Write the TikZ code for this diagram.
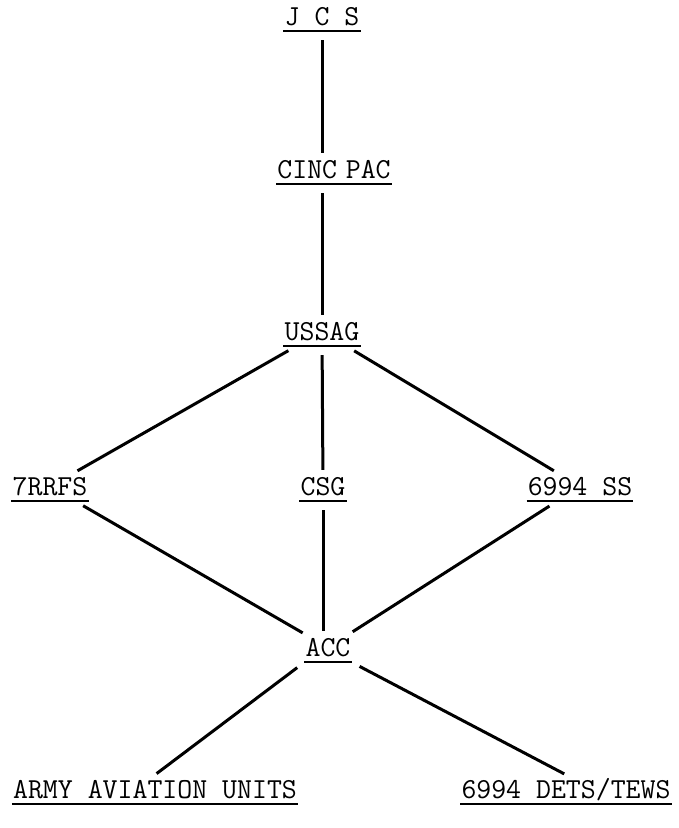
\documentclass[tikz,border=0pt]{standalone}
\usepackage{fontspec}
\usepackage{tikz}

\tikzset{
  unit/.style={font={\ttfamily\fontsize{29}{34}\selectfont}, anchor=base,
    inner xsep=1pt, inner ysep=6pt, text height=17pt, text depth=0pt},
  link/.style={line width=3pt, shorten <=9pt, shorten >=2pt},
  uline/.style={line width=2.2pt}
}

\begin{document}
\begin{tikzpicture}[x=1pt,y=-1pt]
  \useasboundingbox (0,0) rectangle (679,828);
  % chain of command
  \node[unit] (jcs)     at (322,25)  {J C S};
  \node[unit] (cincpac) at (334,178) {CINC\hspace{0.3em}PAC};
  \node[unit] (ussag)   at (322,340) {USSAG};
  \node[unit] (rrfs)    at (50,495)  {7RRFS};
  \node[unit] (csg)     at (323,495) {CSG};
  \node[unit] (ss)      at (580,495) {6994 SS};
  \node[unit] (acc)     at (328,656) {ACC};
  \node[unit] (army)    at (155,798) {ARMY AVIATION UNITS};
  \node[unit] (dets)    at (566,798) {6994 DETS/TEWS};
  \foreach \n in {jcs,cincpac,ussag,rrfs,csg,ss,acc,army,dets}
    \draw[uline] (\n.south west) -- (\n.south east);
  \draw[link] (jcs.south) -- (jcs.south |- cincpac.north);
  \draw[link] (cincpac.south -| ussag) -- (ussag.north);
  \draw[link] (ussag) -- (rrfs);
  \draw[link] (ussag) -- (csg);
  \draw[link] (ussag) -- (ss);
  \draw[link] (rrfs) -- (acc);
  \draw[link] (csg) -- (csg |- acc.north);
  \draw[link] (ss) -- (acc);
  \draw[link] (acc.south west) -- (army.north);
  \draw[link] (acc.south east) -- (dets.north);
\end{tikzpicture}
\end{document}
